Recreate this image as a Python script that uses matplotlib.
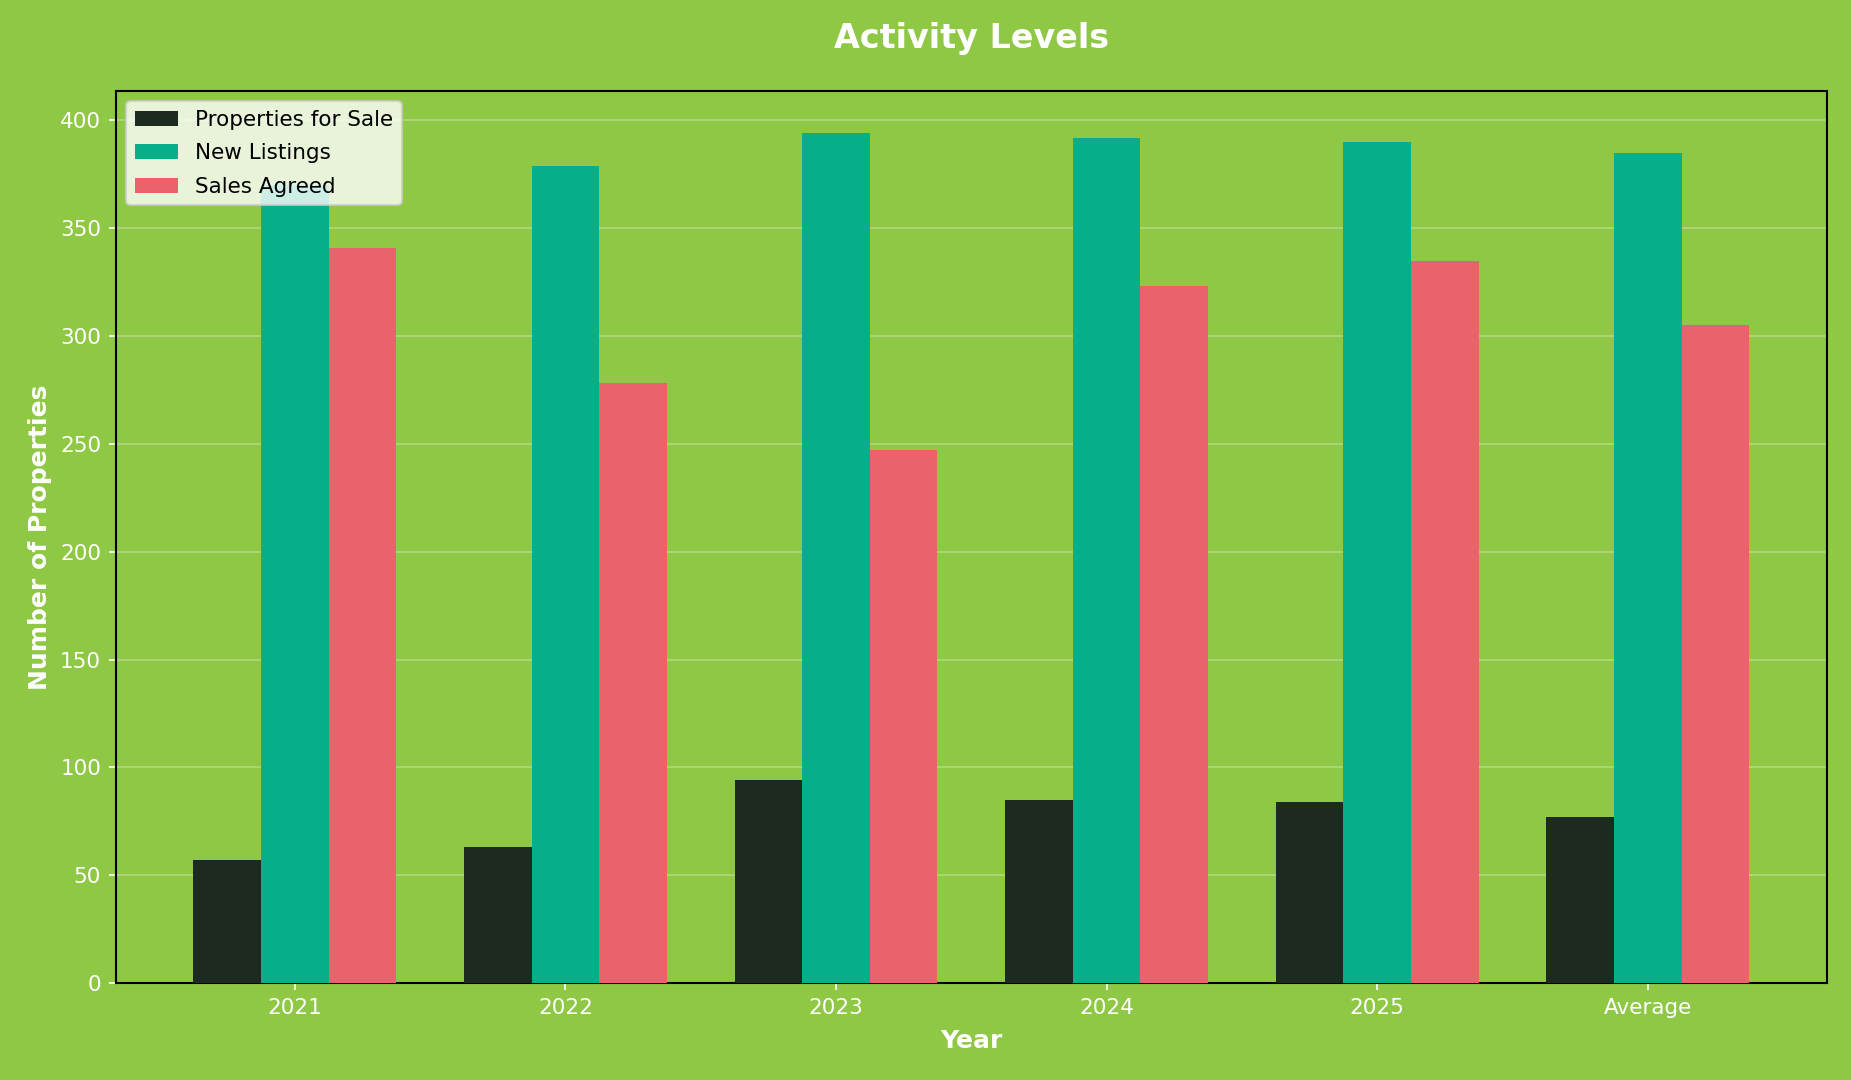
import matplotlib
matplotlib.use("Agg")
import matplotlib.pyplot as plt
import numpy as np

categories = ["2021", "2022", "2023", "2024", "2025", "Average"]
properties_for_sale = [57, 63, 94, 85, 84, 77]
new_listings = [370, 379, 394, 392, 390, 385]
sales_agreed = [341, 278, 247, 323, 335, 305]

bg = "#8fc844"
c_black = "#1c2a20"
c_teal = "#07ae8a"
c_red = "#ec626c"

fig = plt.figure(figsize=(12.34, 7.2), dpi=150, facecolor=bg)
ax = fig.add_axes([0.0625, 0.0896, 0.9245, 0.8264])
ax.set_facecolor(bg)

x = np.arange(len(categories))
w = 0.25
ax.bar(x - w, properties_for_sale, w, color=c_black, label="Properties for Sale", zorder=3)
ax.bar(x, new_listings, w, color=c_teal, label="New Listings", zorder=3)
ax.bar(x + w, sales_agreed, w, color=c_red, label="Sales Agreed", zorder=3)

ax.set_xticks(x)
ax.set_xticklabels(categories)
ax.tick_params(colors="white", labelsize=10.3)
ax.grid(axis="y", color="white", alpha=0.3, linewidth=0.8, zorder=0)
ax.set_axisbelow(True)
for s in ax.spines.values():
    s.set_color("black")
    s.set_linewidth(1.0)

ax.set_xlabel("Year", color="white", fontsize=12, fontweight="bold", labelpad=5.5)
ax.set_ylabel("Number of Properties", color="white", fontsize=12, fontweight="bold", labelpad=4)
ax.set_title("Activity Levels", color="white", fontsize=16, fontweight="bold", pad=20.5)

leg = ax.legend(loc="upper left", fontsize=10.3, facecolor="white", framealpha=0.8,
                labelspacing=0.62)

fig.savefig("out.png", dpi=150, facecolor=bg)
